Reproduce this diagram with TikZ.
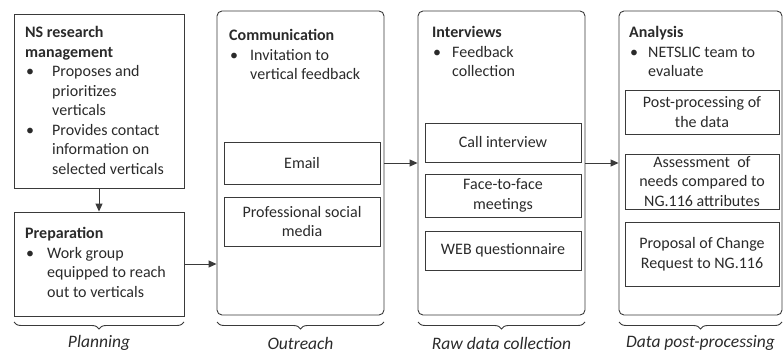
\documentclass[tikz,border=0pt]{standalone}
\usepackage{fontspec}
\setmainfont{Carlito}
\usetikzlibrary{arrows.meta,decorations.pathreplacing,calc}
\definecolor{ln}{HTML}{3A3A3A}
\definecolor{tx}{HTML}{2A2A2A}
\begin{document}
\begin{tikzpicture}[x=1pt,y=-1pt,
  box/.style={draw=ln, line width=0.9pt, inner sep=0pt, minimum width=#1},
  tall/.style={box=#1, rounded corners=5pt, minimum height=304pt},
  sub/.style={draw=ln, line width=0.9pt, inner sep=0pt, align=center, text=tx,
     font=\fontsize{16}{19.5}\selectfont},
  txt/.style={inner sep=0pt, anchor=north west, text=tx, font=\fontsize{16}{19.5}\selectfont},
  lab/.style={inner sep=0pt, text=tx, font=\fontsize{17.5}{20}\selectfont\itshape},
  arr/.style={draw=ln, line width=0.9pt, -{Triangle[length=8pt,width=7pt]}},
  brc/.style={draw=ln, line width=0.9pt, decorate, decoration={brace, mirror, amplitude=7pt}}
]
\useasboundingbox (0,0) rectangle (783,358);

% Planning column
\node[box=170pt, minimum height=174pt] (ns) at (99,101) {};
\node[box=170pt, minimum height=104pt] (prep) at (99,264) {};
\node[txt] (nsT) at (25,24) {\begin{tabular}{@{}p{27pt}@{}l@{}}
\multicolumn{2}{@{}l@{}}{\textbf{NS research}}\\
\multicolumn{2}{@{}l@{}}{\textbf{management}}\\
\hspace{1pt}• & Proposes and\\
 & prioritizes\\
 & verticals\\
\hspace{1pt}• & Provides contact\\
 & information on\\
 & selected verticals
\end{tabular}};
\node[txt] (prepT) at (25,225) {\begin{tabular}{@{}p{22pt}@{}l@{}}
\multicolumn{2}{@{}l@{}}{\textbf{Preparation}}\\
\hspace{1pt}• & Work group\\
 & equipped to reach\\
 & out to verticals
\end{tabular}};

% Outreach column
\node[tall=167pt] (out) at (300.5,163) {};
\node[txt] (outT) at (229,27) {\begin{tabular}{@{}p{21pt}@{}l@{}}
\multicolumn{2}{@{}l@{}}{\textbf{Communication}}\\
\hspace{1pt}• & Invitation to\\
 & vertical feedback
\end{tabular}};
\node[sub, minimum width=156pt, minimum height=42pt] (email) at (302,163) {Email};
\node[sub, minimum width=156pt, minimum height=49pt] (psm) at (302,221.5) {Professional social\\media};

% Raw data collection column
\node[tall=167pt] (int) at (501.5,163) {};
\node[txt] (intT) at (432,24) {\begin{tabular}{@{}p{20pt}@{}l@{}}
\multicolumn{2}{@{}l@{}}{\textbf{Interviews}}\\
\hspace{1pt}• & Feedback\\
 & collection
\end{tabular}};
\node[sub, minimum width=156pt, minimum height=39pt] (call) at (503,142.5) {Call interview};
\node[sub, minimum width=156pt, minimum height=43pt] (face) at (503,195.5) {Face-to-face\\meetings};
\node[sub, minimum width=156pt, minimum height=39pt] (web) at (503,250.5) {WEB questionnaire};

% Data post-processing column
\node[tall=163pt] (ana) at (700.5,163) {};
\node[txt] (anaT) at (629,24) {\begin{tabular}{@{}p{19pt}@{}l@{}}
\multicolumn{2}{@{}l@{}}{\textbf{Analysis}}\\
\hspace{1pt}• & NETSLIC team to\\
 & evaluate
\end{tabular}};
\node[sub, minimum width=154pt, minimum height=44pt] (post) at (702,112) {Post-processing of\\the data};
\node[sub, minimum width=154pt, minimum height=55pt] (ass) at (702,181.5) {Assessment \ of\\needs compared to\\NG.116 attributes};
\node[sub, minimum width=154pt, minimum height=64pt] (prop) at (702,254) {Proposal of Change\\Request to NG.116};

% connectors
\draw[arr] (ns.south) -- (prep.north);
\draw[arr] (prep.east) -- (prep.east -| out.west);
\draw[arr] (out.east) -- (int.west);
\draw[arr] (int.east) -- (ana.west);

% braces and labels
\draw[brc] (14,322) -- (184,322);
\draw[brc] (217,322) -- (384,322);
\draw[brc] (418,322) -- (585,322);
\draw[brc] (619,322) -- (782,322);
\node[lab] (l1) at (99,343) {Planning};
\node[lab] (l2) at (300.5,343) {Outreach};
\node[lab] (l3) at (501.5,343) {Raw data collection};
\node[lab] (l4) at (700.5,343) {Data post-processing};
\end{tikzpicture}
\end{document}
